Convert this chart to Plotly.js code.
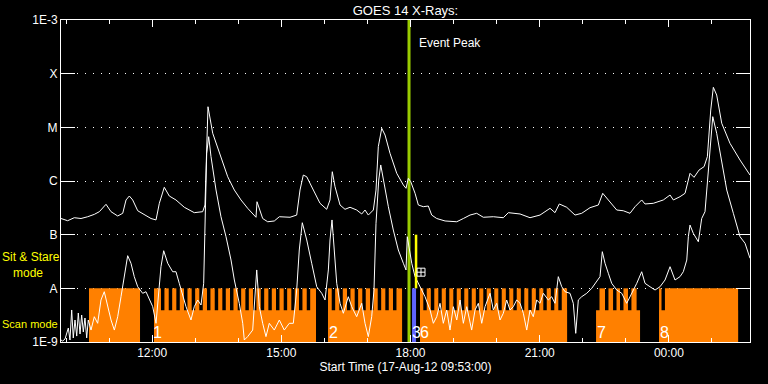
<!DOCTYPE html>
<html>
<head>
<meta charset="utf-8">
<script src="https://cdn.plot.ly/plotly-3.0.1.min.js"></script>
<style>
html,body{margin:0;padding:0;background:#000;}
#chart{width:768px;height:384px;}
</style>
</head>
<body>
<div id="chart"></div>
<script>
// ---- DATA (times in minutes after start 17-Aug-12 09:53:00) ----
const startTime = '2012-08-17 09:53:00';
const spanMinutes = 960;

// GOES 14 long channel (1-8 A), W/m^2
const hiMin = [0,9.3,18.5,27.9,37.2,46.4,53.4,62.7,69.7,79.0,86.0,90.6,95.2,99.9,106.9,116.1,125.4,132.4,137.0,143.9,150.9,160.2,171.8,185.7,197.4,200.6,202.5,204.8,211.4,222.9,232.3,241.5,250.8,260.1,271.7,273.1,276.3,281.0,288.0,297.2,304.2,319.1,328.4,333.0,337.6,342.4,351.6,360.9,370.2,374.8,378.0,381.8,388.8,395.7,402.7,412.0,419.0,423.6,428.2,435.2,438.9,442.1,446.9,451.5,458.4,467.8,477.0,480.7,483.9,487.3,493.3,497.9,504.8,511.8,516.5,523.5,535.1,551.4,560.6,569.9,579.2,588.4,602.4,616.3,623.3,639.6,653.5,667.4,681.4,688.3,694.3,704.6,716.2,725.5,737.1,748.7,754.8,762.6,774.3,783.5,792.8,799.8,809.1,813.7,825.3,839.2,848.6,853.2,862.5,869.5,876.4,882.0,889.0,896.0,900.6,905.3,908.9,913.6,920.6,932.1,946.1,960.0];
const hiFlux = [2.0e-7,1.82e-7,2.07e-7,2.0e-7,2.16e-7,2.39e-7,2.68e-7,3.68e-7,2.68e-7,2.23e-7,2.50e-7,4.43e-7,5.25e-7,4.43e-7,2.79e-7,2.32e-7,2.0e-7,1.88e-7,3.84e-7,7.63e-7,5.25e-7,4.43e-7,3.24e-7,2.57e-7,2.68e-7,3.57e-7,2.84e-6,2.42e-5,7.74e-6,2.84e-6,1.20e-6,6.79e-7,4.43e-7,3.10e-7,2.11e-7,4.11e-7,3.10e-7,2.0e-7,1.74e-7,1.80e-7,2.16e-7,2.11e-7,2.32e-7,6.79e-7,1.29e-6,1.20e-6,6.79e-7,3.84e-7,2.97e-7,4.43e-7,1.49e-6,7.83e-7,3.57e-7,2.97e-7,3.24e-7,2.88e-7,2.43e-7,2.88e-7,2.32e-7,2.88e-7,6.79e-7,4.36e-6,9.59e-6,7.19e-6,3.28e-6,1.39e-6,8.41e-7,7.31e-7,1.12e-6,9.70e-7,5.90e-7,3.57e-7,3.32e-7,3.42e-7,2.32e-7,2.0e-7,1.80e-7,1.74e-7,2.0e-7,2.32e-7,2.50e-7,2.11e-7,2.16e-7,2.07e-7,2.57e-7,2.43e-7,2.07e-7,2.32e-7,3.10e-7,2.57e-7,3.73e-7,3.24e-7,2.32e-7,2.50e-7,3.18e-7,3.57e-7,5.90e-7,4.43e-7,2.88e-7,2.79e-7,2.50e-7,3.32e-7,4.43e-7,3.73e-7,3.84e-7,4.43e-7,5.48e-7,4.43e-7,5.10e-7,5.90e-7,1.39e-6,1.17e-6,1.60e-6,1.85e-6,2.84e-6,2.10e-5,5.57e-5,4.00e-5,1.19e-5,5.04e-6,2.46e-6,1.29e-6];

// GOES 14 short channel (0.5-4 A), W/m^2
const loMin = [0,2.4,5.6,10.2,12.5,14.9,17.1,19.5,21.9,24.1,26.5,28.8,31.1,33.4,35.8,38.0,41.8,46.4,51.1,55.7,60.3,65.1,69.7,74.3,79.0,83.6,88.2,92.9,97.5,102.1,106.9,113.8,118.4,123.0,127.8,132.4,137.0,139.3,143.1,148.7,155.6,160.2,164.8,169.6,174.2,181.1,185.7,190.5,195.1,198.8,200.6,203.0,205.8,209.0,216.0,222.9,229.9,236.9,241.5,248.4,253.2,255.4,260.1,267.1,272.7,276.3,281.0,285.6,290.2,297.2,304.2,311.1,318.1,323.7,328.4,332.0,336.2,342.4,349.3,356.3,363.3,367.9,372.5,374.8,377.6,380.4,384.2,388.8,393.4,400.3,405.1,412.0,419.0,423.6,428.2,432.9,436.1,438.9,442.7,445.5,450.1,456.1,463.0,470.0,477.0,480.7,482.5,485.3,488.7,493.3,497.9,502.6,507.2,514.2,518.8,523.5,528.1,532.7,537.4,542.0,546.6,551.4,556.0,560.6,565.3,572.2,576.9,581.5,586.2,590.8,597.8,602.4,607.1,611.7,616.3,621.0,625.6,630.2,634.9,639.6,644.2,648.9,653.5,658.1,662.8,667.4,672.0,679.0,683.7,688.3,692.9,697.7,702.3,709.2,713.8,717.2,720.8,725.5,732.5,739.5,746.4,751.0,754.2,758.0,762.6,767.3,774.3,781.3,788.2,795.2,802.2,809.1,813.7,820.7,827.7,834.6,841.6,848.6,855.5,862.5,867.1,871.9,874.1,876.4,881.0,888.0,892.7,897.3,901.9,905.3,908.1,913.6,920.6,927.6,936.8,946.1,953.1,960.0];
const loFlux = [1.09e-9,1.04e-9,1.14e-9,1.82e-9,1.09e-9,3.95e-9,1.19e-9,2.57e-9,1.29e-9,3.47e-9,1.41e-9,3.18e-9,1.54e-9,2.80e-9,1.19e-9,2.57e-9,1.67e-9,2.96e-9,2.23e-9,6.06e-9,8.65e-9,4.55e-9,2.57e-9,1.67e-9,2.96e-9,6.98e-9,1.65e-8,4.06e-8,2.93e-8,1.65e-8,1.07e-8,8.08e-9,8.65e-9,6.06e-9,4.55e-9,2.23e-9,9.31e-9,2.53e-8,5.02e-8,2.93e-8,2.04e-8,2.04e-8,1.24e-8,6.98e-9,4.55e-9,2.57e-9,4.55e-9,6.06e-9,4.89e-9,1.24e-8,1.06e-7,3.28e-6,6.69e-6,2.84e-6,6.79e-7,2.16e-7,9.16e-8,3.37e-8,1.43e-8,5.26e-9,2.23e-9,1.09e-9,1.26e-9,1.67e-9,2.20e-8,4.55e-9,2.23e-9,1.26e-9,2.23e-9,1.67e-9,2.57e-9,1.67e-9,2.23e-9,2.23e-9,9.31e-9,5.18e-8,1.67e-7,7.95e-8,2.93e-8,1.07e-8,8.08e-9,6.06e-9,2.20e-8,7.95e-8,1.88e-7,5.18e-8,1.24e-8,5.26e-9,3.43e-9,6.98e-9,4.55e-9,2.96e-9,5.26e-9,2.23e-9,1.26e-9,2.96e-9,9.31e-9,1.63e-7,1.04e-6,1.99e-6,9.06e-7,3.32e-7,1.22e-7,5.18e-8,2.93e-8,2.20e-8,9.16e-8,5.18e-8,2.93e-8,1.65e-8,1.24e-8,9.31e-9,6.98e-9,3.95e-9,2.23e-9,2.96e-9,5.26e-9,2.23e-9,3.95e-9,1.67e-9,4.55e-9,2.57e-9,6.06e-9,2.23e-9,4.55e-9,1.67e-9,3.95e-9,5.26e-9,2.23e-9,4.55e-9,8.08e-9,3.95e-9,5.26e-9,2.57e-9,3.43e-9,6.06e-9,3.95e-9,4.55e-9,6.06e-9,5.26e-9,3.43e-9,1.67e-9,3.95e-9,2.96e-9,6.06e-9,5.26e-9,8.08e-9,6.06e-9,6.98e-9,5.26e-9,1.65e-8,1.07e-8,8.65e-9,8.08e-9,5.26e-9,1.45e-9,6.06e-9,6.98e-9,8.08e-9,1.0e-8,1.33e-8,1.65e-8,4.82e-8,2.93e-8,1.91e-8,1.24e-8,9.31e-9,8.08e-9,5.26e-9,8.08e-9,1.24e-8,2.04e-8,1.24e-8,1.07e-8,9.31e-9,1.07e-8,1.43e-8,2.53e-8,1.43e-8,1.65e-8,2.04e-8,3.37e-8,9.16e-8,1.51e-7,1.06e-7,7.39e-8,2.0e-7,2.68e-7,1.60e-6,6.69e-6,1.58e-5,7.74e-6,2.46e-6,6.79e-7,2.50e-7,9.16e-8,6.90e-8,3.63e-8];

// Observation blocks (minutes) and scan-mode intervals inside them
const blockStart = [39.0, 129.6, 372.0, 500.2, 745.5, 833.3];
const blockEnd   = [110.1, 355.3, 475.2, 705.1, 806.8, 943.4];
const scanStart = [139.3,150.1,160.7,171.4,182.1,192.7,203.4,214.2,224.8,235.5,246.2,256.9,267.5,278.3,288.9,299.6,310.3,320.9,331.6,342.4,
  377.2,387.8,398.5,409.2,419.8,430.6,441.3,451.9,462.6,
  504.8,515.3,525.7,536.2,546.6,557.1,567.5,578.0,588.4,598.9,609.3,619.8,630.2,640.7,651.1,661.6,672.0,682.5,692.9,
  745.5,758.0,769.2,778.9,790.0,802.0,
  836.7];
const scanDuration = 4.8;
const stareLevel = 1e-8;
const scanLevel = 3.9e-9;
const bandBase = 1e-9;
const otherStart = 489.1, otherEnd = 494.7;

const blockLabels = ['1','2','3','6','7','8'];
const blockLabelMin = [134.5, 379.7, 494.7, 506.5, 752.4, 840.2];
const blockLabelFlux = 1.48e-9;

const eventPeakMin = 484.9;
const yellowMin = 494.7;
const yellowFlux = [1e-8, 1e-7];
const markMin = 501.6, markFlux = 2.0e-8;

const yTickVals = [1e-9,1e-8,1e-7,1e-6,1e-5,1e-4,1e-3];
const yTickText = ['1E-9','A','B','C','M','X','1E-3'];

// ---- helpers ----
const T0 = Date.UTC(2012,7,17,9,53,0);
function toDate(min){
  const d = new Date(T0 + Math.round(min*60000));
  const p = n => String(n).padStart(2,'0');
  return d.getUTCFullYear()+'-'+p(d.getUTCMonth()+1)+'-'+p(d.getUTCDate())+' '+
         p(d.getUTCHours())+':'+p(d.getUTCMinutes())+':'+p(d.getUTCSeconds());
}

// build stare segments (tall) and scan blocks (short, full block width underneath)
const tall = [], short = [];
for (let i=0;i<blockStart.length;i++){
  const s = blockStart[i], e = blockEnd[i];
  const inside = scanStart.filter(n => n >= s-0.05 && n < e);
  if (inside.length) short.push([s, e]);
  let cur = s;
  inside.forEach(n => {
    const ne = Math.min(n + scanDuration, e);
    if (n > cur) tall.push([cur, n]);
    cur = ne;
  });
  if (cur < e) tall.push([cur, e]);
}
function barTrace(segs, top, color){
  return {
    type:'bar',
    x: segs.map(g => toDate((g[0]+g[1])/2)),
    y: segs.map(() => top - bandBase),
    base: segs.map(() => bandBase),
    width: segs.map(g => (g[1]-g[0])*60000),
    marker:{color: color, line:{width:0}},
    hoverinfo:'skip'
  };
}

const FONT = 'Liberation Sans, Arial, sans-serif';
const data = [
  barTrace(short, scanLevel, '#ff8000'),
  barTrace(tall, stareLevel, '#ff8000'),
  barTrace([[otherStart, otherEnd]], stareLevel, '#5f64ff'),
  {type:'scatter', mode:'lines', x:[toDate(eventPeakMin), toDate(eventPeakMin)], y:[1e-9,1e-3],
   line:{color:'#99cc00', width:3}, hoverinfo:'skip'},
  {type:'scatter', mode:'lines', x:hiMin.map(toDate), y:hiFlux, line:{color:'#ffffff', width:1}, hoverinfo:'skip'},
  {type:'scatter', mode:'lines', x:loMin.map(toDate), y:loFlux, line:{color:'#ffffff', width:1}, hoverinfo:'skip'},
  {type:'scatter', mode:'lines', x:[toDate(yellowMin), toDate(yellowMin)], y:yellowFlux,
   line:{color:'#ffff00', width:2.5}, hoverinfo:'skip'},
  {type:'scatter', mode:'markers', x:[toDate(markMin)], y:[markFlux],
   marker:{symbol:'square-cross-open', size:8, color:'#ffffff', line:{width:1, color:'#ffffff'}}, hoverinfo:'skip'}
];

const annotations = blockLabels.map((t,i) => ({
  x: toDate(blockLabelMin[i]), y: Math.log10(blockLabelFlux), xref:'x', yref:'y',
  text:t, showarrow:false, font:{family:FONT, size:16, color:'#ffffff'},
  xanchor:'center', yanchor:'middle'
}));
annotations.push({x: toDate(eventPeakMin), y:0.9286, xref:'x', yref:'paper', xanchor:'left', xshift:8,
  yanchor:'middle', text:'Event Peak', showarrow:false, font:{family:FONT, size:12, color:'#ffffff'}});
annotations.push({x:(1-61)/689, y:(342-257)/322, xref:'paper', yref:'paper', xanchor:'left', yanchor:'middle',
  text:'Sit & Stare', showarrow:false, font:{family:FONT, size:12, color:'#ffff00'}, borderpad:0});
annotations.push({x:(12-61)/689, y:(342-273)/322, xref:'paper', yref:'paper', xanchor:'left', yanchor:'middle',
  text:'mode', showarrow:false, font:{family:FONT, size:12, color:'#ffff00'}, borderpad:0});
annotations.push({x:(1-61)/689, y:(342-324)/322, xref:'paper', yref:'paper', xanchor:'left', yanchor:'middle',
  text:'Scan mode', showarrow:false, font:{family:FONT, size:11, color:'#ffff00'}, borderpad:0});

const layout = {
  width:768, height:384,
  margin:{l:61, r:18, t:20, b:42, pad:0},
  paper_bgcolor:'#000000', plot_bgcolor:'#000000',
  showlegend:false, barmode:'overlay', hovermode:false,
  font:{family:FONT, size:12, color:'#ffffff'},
  title:{text:'GOES 14 X-Rays:', font:{family:FONT, size:13, color:'#ffffff'},
         x:0.5, xref:'paper', y:1-10/384, yref:'container', yanchor:'middle'},
  xaxis:{
    type:'date', range:[startTime, toDate(spanMinutes)],
    tickformat:'%H:%M', dtick:3*3600000, tick0:'2012-08-17 00:00:00',
    ticks:'inside', ticklen:7, tickwidth:1, tickcolor:'#ffffff',
    showline:true, linecolor:'#ffffff', linewidth:1, mirror:'ticks',
    showgrid:false, zeroline:false,
    tickfont:{family:FONT, size:12, color:'#ffffff'},
    minor:{dtick:3600000, tick0:'2012-08-17 00:00:00', ticks:'inside', ticklen:4, tickcolor:'#ffffff', showgrid:false},
    title:{text:'Start Time (17-Aug-12 09:53:00)', font:{family:FONT, size:12, color:'#ffffff'}, standoff:3}
  },
  yaxis:{
    type:'log', range:[-9,-3],
    tickmode:'array', tickvals:yTickVals, ticktext:yTickText,
    ticks:'inside', ticklen:14, tickwidth:1, tickcolor:'#ffffff',
    showline:true, linecolor:'#ffffff', linewidth:1, mirror:'ticks',
    showgrid:true, gridcolor:'#ffffff', gridwidth:1, griddash:'1px,7px',
    zeroline:false,
    tickfont:{family:FONT, size:12, color:'#ffffff'}
  },
  annotations: annotations
};

Plotly.newPlot('chart', data, layout, {staticPlot:true, displayModeBar:false});
</script>
</body>
</html>
